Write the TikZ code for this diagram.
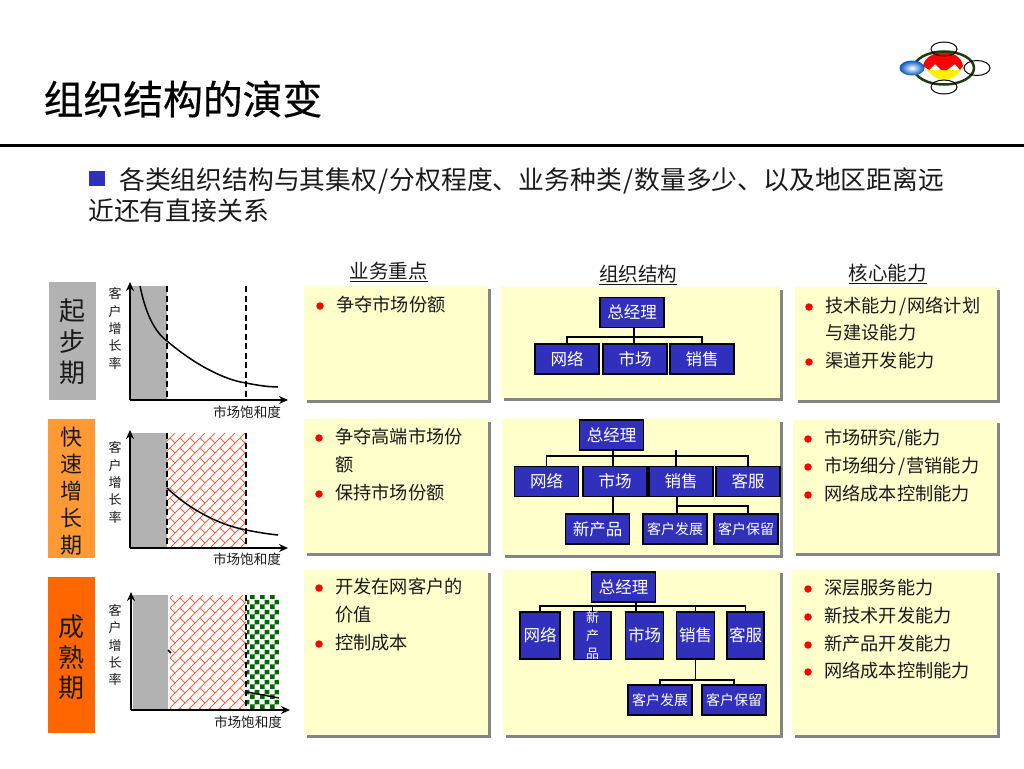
\documentclass[tikz,border=0pt]{standalone}
\usepackage{fontspec}
\setmainfont{Noto Sans CJK SC}
\newfontfamily\titlefont[FakeBold=0.5]{Noto Sans CJK SC}
\usetikzlibrary{patterns}
\usetikzlibrary{arrows.meta}
\definecolor{panelbg}{HTML}{FFFFCC}
\definecolor{panelgray}{HTML}{858585}
\definecolor{orgblue}{HTML}{3030BC}
\definecolor{stagegray}{HTML}{B2B2B2}
\definecolor{stageorange}{HTML}{FF9933}
\definecolor{stagedeep}{HTML}{FF6600}
\definecolor{brickred}{HTML}{EE6644}
\definecolor{checkgreen}{HTML}{006600}
\definecolor{ringgreen}{HTML}{1E3A12}
\definecolor{inkgray}{HTML}{1A1A1A}
\pgfdeclarepatternformonly{diagbrick}{\pgfqpoint{-0.5pt}{-0.5pt}}{\pgfqpoint{10.5pt}{10.5pt}}{\pgfqpoint{10pt}{10pt}}{
  \pgfsetlinewidth{1pt}
  \pgfpathmoveto{\pgfqpoint{-0.5pt}{-0.5pt}}\pgfpathlineto{\pgfqpoint{10.5pt}{10.5pt}}
  \pgfpathmoveto{\pgfqpoint{0pt}{10pt}}\pgfpathlineto{\pgfqpoint{5pt}{5pt}}
  \pgfusepath{stroke}}
\pgfdeclarepatternformonly{greencheck}{\pgfqpoint{0pt}{0pt}}{\pgfqpoint{10pt}{10pt}}{\pgfqpoint{10pt}{10pt}}{
  \pgfpathrectangle{\pgfqpoint{0pt}{0pt}}{\pgfqpoint{5pt}{5pt}}
  \pgfpathrectangle{\pgfqpoint{5pt}{5pt}}{\pgfqpoint{5pt}{5pt}}
  \pgfusepath{fill}}
\newcommand{\slashmark}{\kern1.2pt/\kern1.2pt}
\tikzstyle{heading}=[inner sep=0pt, anchor=west, text=black]
\tikzstyle{colhead}=[inner sep=0pt, text=inkgray, font=\fontsize{19.5pt}{22pt}\selectfont]
\tikzstyle{bodytext}=[inner sep=0pt, anchor=west, text=inkgray, font=\fontsize{18.2pt}{22pt}\selectfont]
\tikzstyle{reddot}=[circle, fill=red, inner sep=0pt, minimum size=7.5pt]
\tikzstyle{orgbox}=[draw=black, line width=1.3pt, fill=orgblue, text=white, inner sep=0pt, minimum width=64pt, minimum height=30pt, font=\fontsize{16.5pt}{18pt}\selectfont]
\tikzstyle{orgtall}=[orgbox, minimum width=38pt, minimum height=47pt]
\tikzstyle{orgsmall}=[orgbox, font=\fontsize{14pt}{16pt}\selectfont]
\tikzstyle{orgline}=[line width=1.3pt, black]
\tikzstyle{stagebox}=[inner sep=0pt, minimum width=47pt]
\tikzstyle{stagetext}=[inner sep=0pt, text=inkgray, align=center]
\tikzstyle{ytext}=[inner sep=0pt, align=center, text=inkgray, font=\fontsize{13pt}{17.3pt}\selectfont]
\tikzstyle{xtext}=[inner sep=0pt, text=inkgray, font=\fontsize{13.6pt}{15pt}\selectfont]
\tikzstyle{axisline}=[line width=1.5pt, -{Stealth[length=9pt, width=8pt]}]
\tikzstyle{dashline}=[line width=1.4pt, dash pattern=on 6pt off 3.5pt]
\tikzstyle{curveline}=[line width=1.5pt]
\tikzstyle{brickfill}=[pattern=diagbrick, pattern color=brickred]
\tikzstyle{checkfill}=[pattern=greencheck, pattern color=checkgreen]
\newcommand{\panelcard}[4]{
  \fill[panelgray] (#1+3,#2+3) rectangle (#3+3,#4+3);
  \fill[panelbg] (#1,#2) rectangle (#3,#4);}
\newcommand{\dotline}[4]{
  \node[reddot] (dot#1) at (#2,#3) {};
  \node[bodytext] (item#1) at (#2+16,#3-1) {#4};}
\begin{document}
\begin{tikzpicture}[x=1pt, y=-1pt]
    \useasboundingbox (0,0) rectangle (1024,768);
    % title and rule
    \node[heading, font=\titlefont\fontsize{39.8pt}{44pt}\selectfont] (title) at (43.5,99) {组织结构的演变};
    \fill[black] (0,143.5) rectangle (1024,146.5);
    \fill[orgblue] (89,171) rectangle (105,186);
    \node[heading, font=\fontsize{25.8pt}{30pt}\selectfont, text=inkgray] (intro1) at (119,180.5) {各类组织结构与其集权\slashmark 分权程度、业务种类\slashmark 数量多少、以及地区距离远};
    \node[heading, font=\fontsize{25.8pt}{30pt}\selectfont, text=inkgray] (intro2) at (88,211) {近还有直接关系};
    % logo
    \fill[yellow] (927,70) .. controls (932,76) and (938,80) .. (944,80) .. controls (950,80) and (958,76) .. (961,70) -- cycle;
    \fill[red] (923,66) .. controls (924,58) and (934,52) .. (944,52) .. controls (954,52) and (962,58) .. (963,66) -- (960,70) -- (955,64) -- (947,70) -- (941,70) -- (935,64) -- (929,70) -- cycle;
    \draw[ringgreen, line width=2.5pt] (944,68) ellipse [x radius=30, y radius=16.5];
    \draw[black, line width=1pt] (944,49) ellipse [x radius=13, y radius=7];
    \draw[black, line width=1pt] (944,87) ellipse [x radius=13, y radius=7];
    \draw[black, line width=1pt] (977,68) ellipse [x radius=13, y radius=7.5];
    \shade[inner color=white, outer color=blue!55!cyan!75!black] (912,68) ellipse [x radius=12.5, y radius=7.5];
    % column heads
    \node[colhead] (headfocus) at (388.5,272) {\underline{业务重点}};
    \node[colhead] (headorg) at (638,275) {\underline{组织结构}};
    \node[colhead] (headcore) at (887.5,274) {\underline{核心能力}};
    % stages
    \node[stagebox, fill=stagegray, minimum height=118pt] (stage1) at (72.5,341) {};
    \node[stagetext, font=\fontsize{26pt}{31pt}\selectfont] (stagelabel1) at (72,342) {起\\步\\期};
    \node[stagebox, fill=stageorange, minimum height=139pt] (stage2) at (71,488.5) {};
    \node[stagetext, font=\fontsize{22pt}{27pt}\selectfont] (stagelabel2) at (71,491) {快\\速\\增\\长\\期};
    \node[stagebox, fill=stagedeep, minimum height=156pt] (stage3) at (71,655) {};
    \node[stagetext, font=\fontsize{26pt}{30.5pt}\selectfont] (stagelabel3) at (71,657.5) {成\\熟\\期};
    % chart of the first stage
    \coordinate (orig1) at (130,400);
    \coordinate (ytop1) at (130,282);
    \coordinate (xend1) at (288,400);
    \fill[stagegray] (orig1) rectangle (167,286);
    \draw[curveline] (140,286) .. controls (146,315) and (155,332) .. (167,341) .. controls (195,365) and (225,380) .. (246,383) .. controls (256,385) and (268,387) .. (278,387);
    \draw[dashline] (167,286) -- (167,400);
    \draw[dashline] (246,286) -- (246,400);
    \draw[axisline] (orig1) -- (ytop1);
    \draw[axisline] (orig1) -- (xend1);
    \node[ytext] (ylabel1) at (115,328.5) {客\\户\\增\\长\\率};
    \node[xtext] (xlabel1) at (247,412) {市场饱和度};
    % chart of the second stage
    \coordinate (orig2) at (130,548);
    \coordinate (ytop2) at (130,430);
    \coordinate (xend2) at (288,548);
    \fill[stagegray] (orig2) rectangle (167,433);
    \fill[white] (167,433) rectangle (246,548);
    \fill[brickfill] (167,433) rectangle (246,548);
    \draw[curveline] (167,488) .. controls (190,510) and (220,525) .. (246,530) .. controls (256,532) and (268,534) .. (278,535);
    \draw[dashline] (167,433) -- (167,548);
    \draw[dashline] (246,433) -- (246,548);
    \draw[axisline] (orig2) -- (ytop2);
    \draw[axisline] (orig2) -- (xend2);
    \node[ytext] (ylabel2) at (115,482.5) {客\\户\\增\\长\\率};
    \node[xtext] (xlabel2) at (247,559) {市场饱和度};
    % chart of the third stage
    \coordinate (orig3) at (131,710);
    \coordinate (ytop3) at (131,592);
    \coordinate (xend3) at (290,710);
    \fill[stagegray] (133,595) rectangle (168,709);
    \fill[white] (170,595) rectangle (246,709);
    \fill[brickfill] (170,595) rectangle (246,709);
    \fill[checkfill] (247,595) rectangle (279,710);
    \draw[curveline] (168,650) -- (171,653);
    \draw[curveline] (247,692) -- (279,698);
    \draw[dashline] (246,595) -- (246,710);
    \draw[axisline] (orig3) -- (ytop3);
    \draw[axisline] (orig3) -- (xend3);
    \node[ytext] (ylabel3) at (115,645) {客\\户\\增\\长\\率};
    \node[xtext] (xlabel3) at (248,722) {市场饱和度};
    % cards
    \panelcard{304}{286}{488}{400}
    \panelcard{501}{287}{780}{398}
    \panelcard{795}{287}{997}{400}
    \panelcard{304}{419}{488}{553}
    \panelcard{502}{419}{780}{555}
    \panelcard{793}{420}{997}{553}
    \panelcard{304}{570}{488}{735}
    \panelcard{503}{570}{780}{735}
    \panelcard{792}{570}{997}{735}
    % first column
    \dotline{a}{320}{306}{争夺市场份额}
    \dotline{b}{319}{438}{争夺高端市场份}
    \node[bodytext] (itembb) at (335,465) {额};
    \dotline{c}{319}{494}{保持市场份额}
    \dotline{d}{319}{588}{开发在网客户的}
    \node[bodytext] (itemdd) at (335,615) {价值};
    \dotline{e}{319}{644}{控制成本}
    % third column
    \dotline{f}{809}{307}{技术能力\slashmark 网络计划}
    \node[bodytext] (itemff) at (825,333) {与建设能力};
    \dotline{g}{809}{362}{渠道开发能力}
    \dotline{h}{808}{439}{市场研究/能力}
    \dotline{i}{808}{467}{市场细分\slashmark 营销能力}
    \dotline{j}{808}{495}{网络成本控制能力}
    \dotline{k}{808}{589}{深层服务能力}
    \dotline{l}{808}{617}{新技术开发能力}
    \dotline{m}{808}{645}{新产品开发能力}
    \dotline{n}{808}{672}{网络成本控制能力}
    % chart of the organisation, first stage
    \node[orgbox] (boss1) at (632,312.5) {总经理};
    \node[orgbox] (net1) at (567,359) {网络};
    \node[orgbox] (mkt1) at (635,359) {市场};
    \node[orgbox] (sale1) at (702,359) {销售};
    \coordinate (bus1) at (634,337);
    \draw[orgline] (net1.north) -- (net1.north |- bus1) -- (sale1.north |- bus1) -- (sale1.north);
    \draw[orgline] (bus1 |- boss1.south) -- (bus1 |- mkt1.north);
    % chart of the organisation, second stage
    \node[orgbox] (boss2) at (611.5,435) {总经理};
    \node[orgbox] (net2) at (546.5,481.5) {网络};
    \node[orgbox] (mkt2) at (615,481.5) {市场};
    \node[orgbox] (sale2) at (681,481.5) {销售};
    \node[orgbox] (serv2) at (748,481.5) {客服};
    \node[orgbox] (newp2) at (597.5,529) {新产品};
    \node[orgsmall] (dev2) at (675,529) {客户发展};
    \node[orgsmall] (keep2) at (746,529) {客户保留};
    \coordinate (bus2) at (613,456);
    \coordinate (stub2) at (676,450);
    \coordinate (fork2) at (677,506);
    \draw[orgline] (net2.north) -- (net2.north |- bus2) -- (serv2.north |- bus2) -- (serv2.north);
    \draw[orgline] (bus2 |- boss2.south) -- (bus2 |- mkt2.north);
    \draw[orgline] (stub2) -- (stub2 |- sale2.north);
    \draw[orgline] (bus2 |- mkt2.south) -- (bus2 |- newp2.north);
    \draw[orgline] (fork2 |- sale2.south) -- (fork2 |- dev2.north);
    \draw[orgline] (fork2) -| ([xshift=2pt]keep2.north);
    % chart of the organisation, third stage
    \node[orgbox] (boss3) at (623.5,587) {总经理};
    \node[orgtall, minimum width=40pt] (net3) at (540,635.5) {网络};
    \node[orgtall, minimum width=37pt, font=\fontsize{13pt}{18pt}\selectfont, align=center] (newp3) at (592.5,635.5) {新\\产\\品};
    \node[orgtall] (mkt3) at (644.5,635.5) {市场};
    \node[orgtall] (sale3) at (695.5,635.5) {销售};
    \node[orgtall, minimum width=37pt] (serv3) at (745.5,635.5) {客服};
    \node[orgsmall] (dev3) at (660,700) {客户发展};
    \node[orgsmall] (keep3) at (734,700) {客户保留};
    \coordinate (bus3) at (636,606);
    \coordinate (fork3) at (695,680);
    \draw[orgline] (net3.north) -- (net3.north |- bus3) -- (serv3.north |- bus3) -- (serv3.north);
    \draw[orgline] (bus3 |- boss3.south) -- (bus3 |- mkt3.north);
    \draw[orgline] (newp3.north |- bus3) -- (newp3.north);
    \draw[orgline] (sale3.north |- bus3) -- (sale3.north);
    \draw[orgline] (sale3.south) -- (sale3.south |- fork3);
    \draw[orgline] (dev3.north) -- (dev3.north |- fork3) -- (keep3.north |- fork3) -- (keep3.north);
\end{tikzpicture}
\end{document}
